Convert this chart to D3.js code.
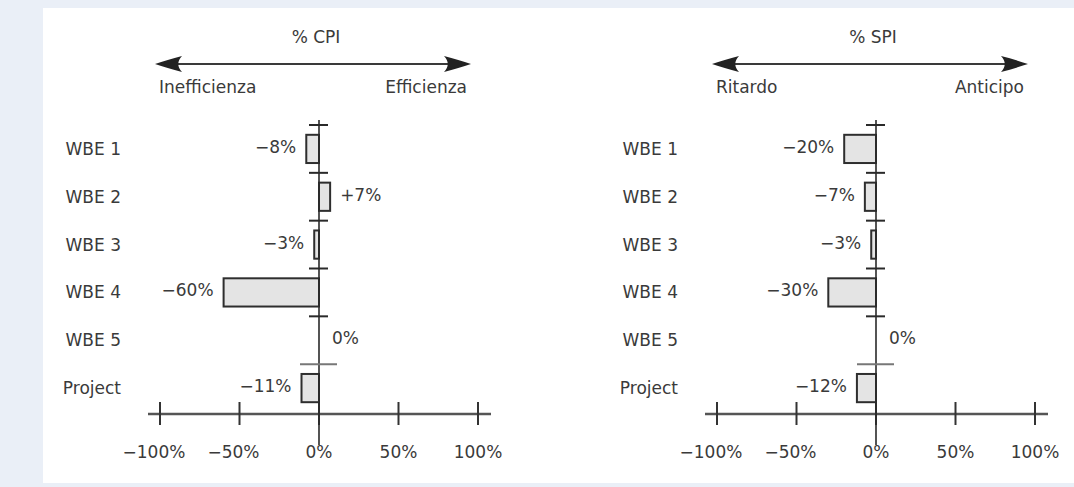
<!DOCTYPE html>
<html>
<head>
<meta charset="utf-8">
<script src="https://cdn.jsdelivr.net/npm/d3@7/dist/d3.min.js"></script>
<style>
  html, body { margin: 0; padding: 0; background: #eaeff7; }
  svg { display: block; }
  text { font-family: "DejaVu Sans", "Open Sans", sans-serif; fill: #3a3a3a; }
</style>
</head>
<body>
<svg id="chart" width="1074" height="487"></svg>
<script>
// Work breakdown elements and the overall project
const categories = ["WBE 1", "WBE 2", "WBE 3", "WBE 4", "WBE 5", "Project"];
// Cost performance index deviation (%)
const cpiValues = [-8, 7, -3, -60, 0, -11];
// Schedule performance index deviation (%)
const spiValues = [-20, -7, -3, -30, 0, -12];
// Axis ticks
const tickValues = [-100, -50, 0, 50, 100];
// Panel headings
const panelTitles = ["% CPI", "% SPI"];
const leftLabels = ["Inefficienza", "Ritardo"];
const rightLabels = ["Efficienza", "Anticipo"];

const svg = d3.select("#chart");
const W = 1074, H = 487;
const FS = 17;

svg.append("rect").attr("width", W).attr("height", H).attr("fill", "#eaeff7");
svg.append("rect").attr("x", 43).attr("y", 8).attr("width", W - 43).attr("height", 475).attr("fill", "#ffffff");

const fmt = v => v > 0 ? "+" + v + "%" : v < 0 ? "\u2212" + Math.abs(v) + "%" : "0%";
const tickFmt = v => v < 0 ? "\u2212" + Math.abs(v) + "%" : v + "%";

// Row layout shared by both panels
const rowTop = 125, rowBottom = 412;
const rows = d3.scaleBand().domain(categories).range([rowTop, rowBottom]);
const bars = d3.scaleBand().domain(categories).range([rowTop, rowBottom])
  .paddingInner(0.41).paddingOuter(0.205);

const zeroX = [319, 876];
const seriesList = [cpiValues, spiValues];

// Barbed arrowhead pointing left, tip at origin
const headPath = "M0,0 C8,-2.5 17,-5.5 27,-8 C22,-3 22,3 27,8 C17,5.5 8,2.5 0,0 Z";

seriesList.forEach((values, p) => {
  const x0 = zeroX[p];
  const x = d3.scaleLinear().domain([-100, 100]).range([x0 - 159, x0 + 159]);
  const g = svg.append("g");

  // Heading and direction arrow
  g.append("text").attr("x", x0 - 3).attr("y", 43).attr("text-anchor", "middle")
    .attr("font-size", FS).text(panelTitles[p]);
  const aL = x0 - 164, aR = x0 + 152, aY = 64;
  g.append("line").attr("x1", aL + 10).attr("x2", aR - 10).attr("y1", aY).attr("y2", aY)
    .attr("stroke", "#3a3a3a").attr("stroke-width", 2.2);
  g.append("path").attr("d", headPath).attr("transform", `translate(${aL},${aY})`).attr("fill", "#222");
  g.append("path").attr("d", headPath).attr("transform", `translate(${aR},${aY}) scale(-1,1)`).attr("fill", "#222");
  g.append("text").attr("x", aL + 4).attr("y", 93).attr("font-size", FS).text(leftLabels[p]);
  g.append("text").attr("x", aR - 4).attr("y", 93).attr("text-anchor", "end").attr("font-size", FS).text(rightLabels[p]);

  // Category labels
  g.selectAll(".cat").data(categories).join("text")
    .attr("x", 121 + (x0 - zeroX[0]))
    .attr("y", d => rows(d) + rows.bandwidth() / 2 + 6)
    .attr("text-anchor", "end").attr("font-size", FS).text(d => d);

  // Horizontal value axis
  const axisY = 414;
  g.append("line").attr("x1", x0 - 171).attr("x2", x0 + 172).attr("y1", axisY).attr("y2", axisY)
    .attr("stroke", "#555").attr("stroke-width", 2.4);
  g.selectAll(".xt").data(tickValues).join("line")
    .attr("x1", d => x(d)).attr("x2", d => x(d)).attr("y1", axisY - 12).attr("y2", axisY + 11)
    .attr("stroke", "#333").attr("stroke-width", 2);
  g.selectAll(".xl").data(tickValues).join("text")
    .attr("x", d => x(d) - (d < 0 ? 6 : 0)).attr("y", 458)
    .attr("text-anchor", "middle").attr("font-size", FS).text(tickFmt);

  // Bars
  const data = categories.map((c, i) => ({ c, v: values[i] }));
  g.selectAll(".bar").data(data.filter(d => d.v !== 0)).join("rect")
    .attr("x", d => Math.min(x(d.v), x(0)))
    .attr("y", d => bars(d.c))
    .attr("width", d => Math.abs(x(d.v) - x(0)))
    .attr("height", bars.bandwidth())
    .attr("fill", "#e4e4e4").attr("stroke", "#2e2e2e").attr("stroke-width", 2);

  // Vertical zero axis with row separators
  g.append("line").attr("x1", x0).attr("x2", x0).attr("y1", 120).attr("y2", 445)
    .attr("stroke", "#2a2a2a").attr("stroke-width", 1.6);
  g.selectAll(".sep").data(categories).join("line")
    .attr("x1", d => d === "Project" ? x0 - 19 : x0 - 10)
    .attr("x2", d => d === "Project" ? x0 + 18 : x0 + 9)
    .attr("y1", d => rows(d)).attr("y2", d => rows(d))
    .attr("stroke", d => d === "Project" ? "#777" : "#2a2a2a")
    .attr("stroke-width", 2);

  // Value labels
  g.selectAll(".val").data(data).join("text")
    .attr("x", d => d.v < 0 ? x(d.v) - 10 : (d.v > 0 ? x(d.v) + 10 : x(0) + 13))
    .attr("y", d => bars(d.c) + bars.bandwidth() / 2 + 4)
    .attr("text-anchor", d => d.v < 0 ? "end" : "start")
    .attr("font-size", FS).text(d => fmt(d.v));
});
</script>
</body>
</html>
